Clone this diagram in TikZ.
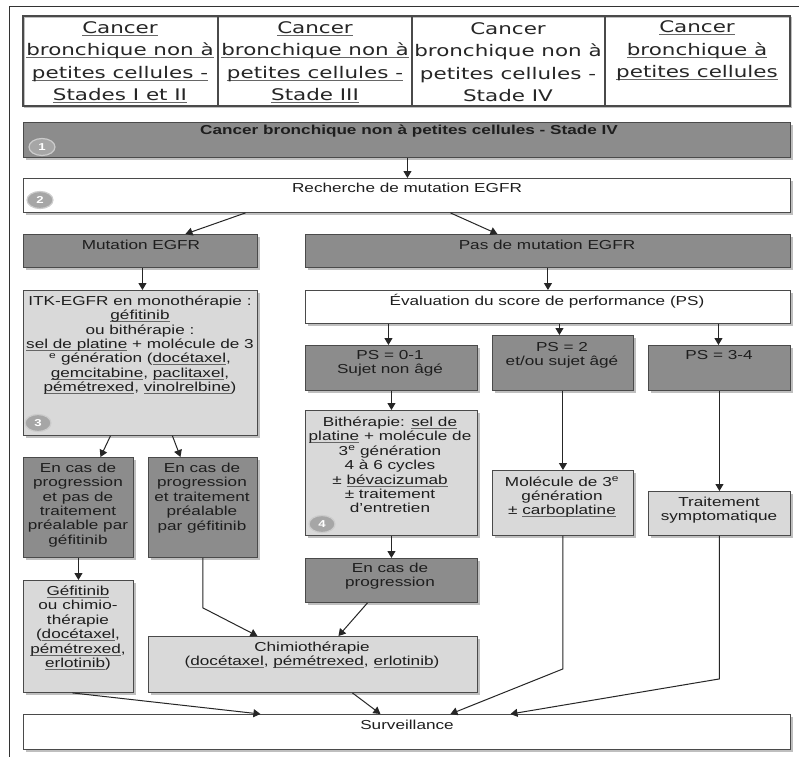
\documentclass[tikz,border=0pt]{standalone}
\usepackage{fontspec}
\setmainfont{Liberation Sans}[FakeStretch=1.32]
\newfontfamily\hdrfont{DejaVu Sans}[FakeStretch=1.34]
\usetikzlibrary{arrows.meta,shadows,shapes.geometric}
\definecolor{dk}{HTML}{8C8C8C}
\definecolor{lt}{HTML}{D9D9D9}
\definecolor{edge}{HTML}{4A4A4A}
\definecolor{ink}{HTML}{1E1E1E}
\newsavebox\ulbox
\newcommand\cul[1]{\leavevmode\sbox\ulbox{#1}\rlap{\textcolor{black!60}{\rule[-2.2pt]{\wd\ulbox}{0.75pt}}}\usebox\ulbox}
\tikzset{
  box/.style={draw=edge, line width=0.9pt, inner sep=0pt, anchor=north west,
    drop shadow={shadow xshift=2.5pt, shadow yshift=-2.5pt, fill=black!45, opacity=0.55}},
  dkbox/.style={box, fill=dk},
  ltbox/.style={box, fill=lt},
  whbox/.style={box, fill=white},
  txt/.style={align=center, inner sep=0pt, text=ink, font=\fontsize{13}{14.4}\selectfont},
  hdr/.style={align=center, inner sep=0pt, text=black!85, font=\hdrfont\fontsize{16}{22.5}\selectfont},
  arr/.style={draw=black!85, line width=1pt, -{Triangle[width=8pt,length=7pt]}},
  num/.style={ellipse, draw=black!20, line width=1.2pt, fill=black!35, minimum width=26pt,
    minimum height=17pt, inner sep=0pt, text=white, font=\fontsize{10}{10}\selectfont\bfseries}
}
\begin{document}
\begin{tikzpicture}[x=1pt,y=-1pt]
\useasboundingbox (0,0) rectangle (799,756);
\fill[white] (0,0) rectangle (799,756);
% outer frame
\draw[black!80, line width=0.8pt] (9,6) rectangle (830,790);
% header table
\draw[black!25, line width=1pt] (24.5,17.5) rectangle (791.5,107.5);
\draw[edge, line width=1.3pt] (23,16) rectangle (790,106);
\foreach \xx in {218,412,605} \draw[edge, line width=1.3pt] (\xx,16) -- (\xx,106);
\node[hdr] (h1) at (120,62) {\cul{Cancer}\\\cul{bronchique non à}\\\cul{petites cellules -}\\\cul{Stades I et II}};
\node[hdr] (h2) at (315,62) {\cul{Cancer}\\\cul{bronchique non à}\\\cul{petites cellules -}\\\cul{Stade III}};
\node[hdr] (h3) at (508,62) {Cancer\\bronchique non à\\petites cellules -\\Stade IV};
\node[hdr] (h4) at (697,51) {\cul{Cancer}\\\cul{bronchique à}\\\cul{petites cellules}};
% boxes
\node[dkbox, minimum width=767pt, minimum height=35pt] (b1) at (23,122) {};
\node[whbox, minimum width=767pt, minimum height=34pt] (b2) at (23,178) {};
\node[dkbox, minimum width=234pt, minimum height=33pt] (mut) at (23,234) {};
\node[dkbox, minimum width=485pt, minimum height=33pt] (pas) at (305,234) {};
\node[ltbox, minimum width=234pt, minimum height=145pt] (itk) at (23,290) {};
\node[whbox, minimum width=485pt, minimum height=33pt] (eval) at (305,290) {};
\node[dkbox, minimum width=172pt, minimum height=45pt] (ps01) at (305,345) {};
\node[dkbox, minimum width=141pt, minimum height=55pt] (ps2) at (492,335) {};
\node[dkbox, minimum width=142pt, minimum height=45pt] (ps34) at (648,345) {};
\node[ltbox, minimum width=172pt, minimum height=125pt] (bith) at (305,410) {};
\node[ltbox, minimum width=141pt, minimum height=65pt] (mol) at (492,470) {};
\node[ltbox, minimum width=142pt, minimum height=44pt] (trait) at (648,491) {};
\node[dkbox, minimum width=110pt, minimum height=100pt] (p1) at (23,457) {};
\node[dkbox, minimum width=109pt, minimum height=100pt] (p2) at (148,457) {};
\node[ltbox, minimum width=110pt, minimum height=112pt] (gef) at (23,580) {};
\node[dkbox, minimum width=172pt, minimum height=44pt] (prog) at (305,558) {};
\node[ltbox, minimum width=329pt, minimum height=56pt] (chim) at (148,636) {};
\node[whbox, minimum width=767pt, minimum height=35pt] (surv) at (23,714) {};
% numbers
\node[num] (n1) at (42,147) {1};
\node[num] (n2) at (40,200) {2};
\node[num] (n3) at (38,423) {3};
\node[num] (n4) at (322,524) {4};
% texts
\node[txt, font=\fontsize{13}{14.4}\selectfont\bfseries] (b1t) at (409,131) {Cancer bronchique non à petites cellules - Stade IV};
\node[txt] (b2t) at (407,188) {Recherche de mutation EGFR};
\node[txt] (mutt) at (141,245) {Mutation EGFR};
\node[txt] (past) at (547,245) {Pas de mutation EGFR};
\node[txt] (itkt) at (140,345) {ITK-EGFR en monothérapie :\\\cul{géfitinib}\\ou bithérapie :\\\cul{sel de platine} + molécule de 3\\\textsuperscript{e} génération (\cul{docétaxel},\\\cul{gemcitabine}, \cul{paclitaxel},\\\cul{pémétrexed}, \cul{vinolrelbine})};
\node[txt] (evalt) at (547,301) {Évaluation du score de performance (PS)};
\node[txt] (ps01t) at (390,363) {PS = 0-1\\Sujet non âgé};
\node[txt] (ps2t) at (562,355) {PS = 2\\et/ou sujet âgé};
\node[txt] (ps34t) at (719,355) {PS = 3-4};
\node[txt] (btht) at (390,465) {Bithérapie: \cul{sel de}\\\cul{platine} + molécule de\\3\textsuperscript{e} génération\\4 à 6 cycles\\± \cul{bévacizumab}\\± traitement\\d'entretien};
\node[txt] (molt) at (562,497) {Molécule de 3\textsuperscript{e}\\génération\\± \cul{carboplatine}};
\node[txt] (traitt) at (719,510) {Traitement\\symptomatique};
\node[txt] (p1t) at (78,505) {En cas de\\progression\\et pas de\\traitement\\préalable par\\géfitinib};
\node[txt] (p2t) at (202,498) {En cas de\\progression\\et traitement\\préalable\\par géfitinib};
\node[txt] (geft) at (78,628) {\cul{Géfitinib}\\ou chimio-\\thérapie\\(\cul{docétaxel},\\\cul{pémétrexed},\\\cul{erlotinib})};
\node[txt] (progt) at (390,576) {En cas de\\progression};
\node[txt] (chimt) at (312,655) {Chimiothérapie\\(\cul{docétaxel}, \cul{pémétrexed}, \cul{erlotinib})};
\node[txt] (survt) at (407,725) {Surveillance};
% connectors
\draw[arr] ([xshift=0.5pt]b1.south) -- ([xshift=0.5pt]b2.north);
\draw[arr] ([xshift=-161.5pt]b2.south) -- ([xshift=45pt]mut.north);
\draw[arr] ([xshift=43.5pt]b2.south) -- ([xshift=-50.5pt]pas.north);
\draw[arr] ([xshift=2pt]mut.south) -- ([xshift=2pt]itk.north);
\draw[arr] (pas.south) -- (eval.north);
\draw[arr] ([xshift=-159.5pt]eval.south) -- ([xshift=-3pt]ps01.north);
\draw[arr] ([xshift=11.5pt]eval.south) -- ([xshift=-3.5pt]ps2.north);
\draw[arr] ([xshift=170.5pt]eval.south) -- ([xshift=-1pt]ps34.north);
\draw[arr] ([xshift=-30pt]itk.south) -- ([xshift=22pt]p1.north);
\draw[arr] ([xshift=32pt]itk.south) -- ([xshift=-22.5pt]p2.north);
\draw[arr] (ps01.south) -- (bith.north);
\draw[arr] (ps2.south) -- (mol.north);
\draw[arr] (ps34.south) -- (trait.north);
\draw[arr] (p1.south) -- (gef.north);
\draw[arr] (bith.south) -- (prog.north);
\draw[arr] (p2.south) -- ++(0,50) -- ([xshift=-55.5pt]chim.north);
\draw[arr] ([xshift=-24pt]prog.south) -- ([xshift=25.5pt]chim.north);
\draw[arr] (mol.south) -- ++(0,133) -- ([xshift=43.5pt]surv.north);
\draw[arr] (trait.south) -- ++(0,143) -- ([xshift=103.5pt]surv.north);
\draw[arr] ([xshift=-6pt]gef.south) -- ([xshift=-146.5pt]surv.north);
\draw[arr] ([xshift=39.5pt]chim.south) -- ([xshift=-26.5pt]surv.north);
\end{tikzpicture}
\end{document}
